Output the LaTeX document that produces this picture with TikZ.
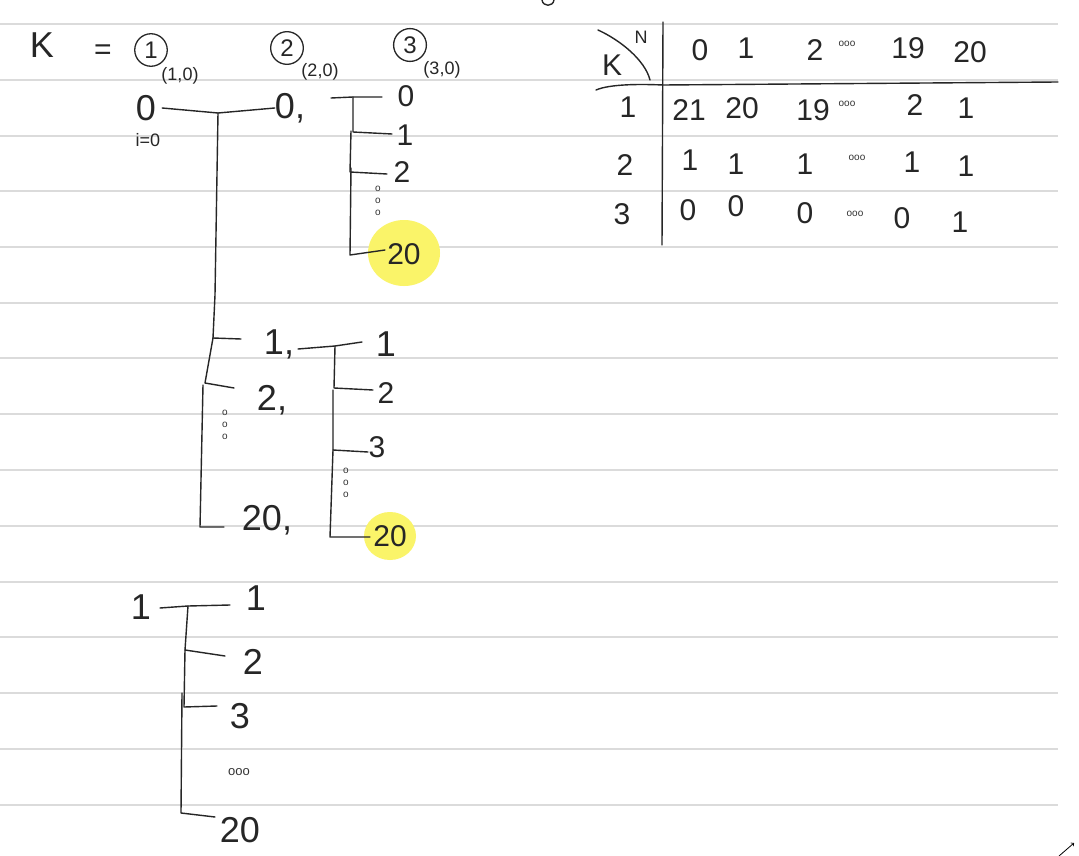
\documentclass[tikz,border=0pt]{standalone}
\usepackage{fontspec}
\setmainfont{Liberation Sans}
\begin{document}
\begin{tikzpicture}[x=1pt,y=-1pt,
  ink/.style={line width=1.4pt, draw=black!85, line cap=round, line join=round},
  rule/.style={line width=1.6pt, draw=black!14},
  big/.style={font=\fontsize{36}{38}\selectfont, inner sep=0pt, text=black!85},
  mid/.style={font=\fontsize{30}{32}\selectfont, inner sep=0pt, text=black!85},
  sml/.style={font=\fontsize{18}{20}\selectfont, inner sep=0pt, text=black!85},
  tiny/.style={font=\fontsize{10}{12}\selectfont, inner sep=0pt, text=black!80, align=center},
  circnum/.style={circle, draw=black!85, line width=1.3pt, inner sep=4pt, font=\fontsize{24}{26}\selectfont, text=black!85},
  hl/.style={fill={rgb,255:red,250;green,244;blue,105}, draw=none}]
\useasboundingbox (0,0) rectangle (1079,856);
\fill[white] (0,0) rectangle (1079,856);
% ruled lines
\foreach \yy in {24,80,136,191,247,303,358,414,470,526,582,637,693,749,805}
  \draw[rule] (0,\yy) -- (1058,\yy);
% partial glyph at top edge
\draw[ink] (542,0) .. controls (543,7) and (553,7) .. (554,0);
% highlights
\fill[hl] (404,253) ellipse [x radius=36, y radius=33];
\fill[hl] (390,536) ellipse [x radius=26, y radius=24];

% header
\node[big] (K) at (42,45) {K};
\node[mid] (eq) at (103,52) {=};
\node[circnum] (c1) at (151,50) {1};
\node[circnum] (c2) at (287,48) {2};
\node[circnum] (c3) at (410,45) {3};

% k=1 root
\node[big] (r0) at (146,108) {0};
\node[sml] (l10) at (180,76) {(1,0)};
\node[sml] (i0) at (148,140) {i=0};
% k=2 root 0
\node[big] (a0) at (290,108) {0,};
\node[sml] (l20) at (320,72) {(2,0)};
% k=3 children
\node[mid] (b0) at (406,96) {0};
\node[sml] (l30) at (442,70) {(3,0)};
\node[mid] (b1) at (405,135) {1};
\node[mid] (b2) at (402,172) {2};
\node[tiny] (bd) at (378,201) {o\\o\\o};
\node[mid] (b20) at (404,254) {20};

% tree k=1 root -> k=2
\coordinate (j0) at (218,113);
\draw[ink] (r0.east) ++(6,0) -- (j0) -- (a0.west);
\coordinate (v1) at (213,338);
\draw[ink] (j0) -- (215,295) -- (v1);
% k=2 level under root
\node[big] (a1) at (279,344) {1,};
\node[big] (a2) at (272,400) {2,};
\node[tiny] (ad) at (225,425) {o\\o\\o};
\node[big] (a20) at (267,520) {20,};
\draw[ink] (v1) -- (241,339);
\draw[ink] (v1) -- (205,383) -- (234,388);
\draw[ink] (203,385) -- (200,527) -- (224,527);
% k=3 tree from 0
\coordinate (jb0) at (353,97);
\draw[ink] (331,98) -- (jb0) -- (382,97);
\draw[ink] (jb0) -- (353,132) -- (392,134);
\draw[ink] (351,131) -- (350,172) -- (387,174);
\draw[ink] (351,168) -- (350,255) -- (385,250);

% k=3 tree from 1
\node[big] (c31) at (386,344) {1};
\node[mid] (c32) at (386,393) {2};
\node[mid] (c33) at (377,447) {3};
\node[tiny] (cd) at (346,483) {o\\o\\o};
\node[mid] (c320) at (390,536) {20};
\coordinate (jc0) at (335,346);
\draw[ink] (298,349) -- (jc0) -- (362,342);
\draw[ink] (jc0) -- (334,388) -- (373,390);
\draw[ink] (333,390) -- (333,450) -- (368,452);
\draw[ink] (333,450) -- (330,537) -- (370,537);

% bottom tree
\node[big] (d0) at (141,607) {1};
\node[big] (d1) at (256,598) {1};
\node[big] (d2) at (253,662) {2};
\node[big] (d3) at (240,716) {3};
\node[font=\fontsize{13}{14}\selectfont, text=black!80] (dd) at (239,772) {ooo};
\node[big] (d20) at (240,830) {20};
\coordinate (jd0) at (188,606);
\draw[ink] (160,608) -- (jd0) -- (230,605);
\draw[ink] (jd0) -- (185,650) -- (225,656);
\draw[ink] (185,650) -- (184,707) -- (217,706);
\draw[ink] (182,693) -- (181,813) -- (215,817);

% table
\coordinate (tv0) at (663,22);
\coordinate (tv1) at (662,245);
\draw[ink] (tv0) -- (tv1);
\draw[ink] (596,90) .. controls (610,84) and (640,84) .. (663,85) -- (1058,82);
\draw[ink] (598,30) .. controls (620,40) and (645,60) .. (650,80);
\node[mid] (tK) at (612,65) {K};
\node[sml] (tN) at (641,37) {N};
\node[mid] (h0) at (700,50) {0};
\node[mid] (h1) at (746,48) {1};
\node[mid] (h2) at (815,50) {2};
\node[tiny] (hd) at (847,44) {ooo};
\node[mid] (h19) at (908,48) {19};
\node[mid] (h20) at (970,52) {20};

\node[mid] (r1) at (628,107) {1};
\node[mid] (r11) at (689,110) {21};
\node[mid] (r12) at (742,108) {20};
\node[mid] (r13) at (813,110) {19};
\node[tiny] (r1d) at (847,104) {ooo};
\node[mid] (r14) at (915,105) {2};
\node[mid] (r15) at (966,108) {1};

\node[mid] (r2) at (625,165) {2};
\node[mid] (r21) at (690,160) {1};
\node[mid] (r22) at (736,164) {1};
\node[mid] (r23) at (805,164) {1};
\node[tiny] (r2d) at (857,158) {ooo};
\node[mid] (r24) at (912,162) {1};
\node[mid] (r25) at (966,166) {1};

\node[mid] (r3) at (622,214) {3};
\node[mid] (r31) at (688,210) {0};
\node[mid] (r32) at (736,206) {0};
\node[mid] (r33) at (805,213) {0};
\node[tiny] (r3d) at (855,214) {ooo};
\node[mid] (r34) at (902,218) {0};
\node[mid] (r35) at (960,222) {1};

% resize icon
\coordinate (ic0) at (1059,856);
\coordinate (ic1) at (1074,843);
\draw[line width=0.8pt, ->] (ic0) -- (ic1);
\end{tikzpicture}
\end{document}
